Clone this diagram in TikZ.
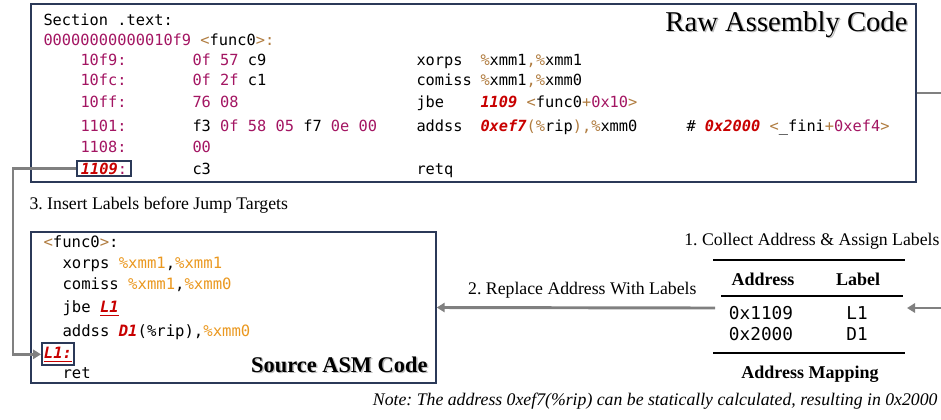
\documentclass[tikz,border=0pt]{standalone}
\usepackage{fontspec}
\setmainfont{Liberation Serif}
\setmonofont{DejaVu Sans Mono}
\usetikzlibrary{arrows.meta,fit}

\definecolor{numpurple}{RGB}{163,21,98}
\definecolor{symbrown}{RGB}{176,124,64}
\definecolor{hlred}{RGB}{200,0,0}
\definecolor{regorange}{RGB}{234,152,32}
\definecolor{boxblue}{RGB}{43,57,88}
\definecolor{flowgray}{RGB}{128,128,128}

\newcommand{\nm}[1]{\textcolor{numpurple}{#1}}
\newcommand{\sy}[1]{\textcolor{symbrown}{#1}}
\newcommand{\hl}[1]{\textcolor{hlred}{\bfseries\itshape #1}}
\newcommand{\rg}[1]{\textcolor{regorange}{#1}}
\newsavebox\ulbox
\newcommand{\ulred}[1]{\sbox\ulbox{#1}\rlap{\textcolor{hlred}{\rule[-3pt]{\wd\ulbox}{1.1pt}}}\usebox\ulbox}

\tikzset{every picture/.style={line width=0.75pt}}
\tikzset{
  rawcode/.style={anchor=base west, inner sep=0pt, font=\fontsize{11.5}{13}\ttfamily},
  srccode/.style={anchor=base west, inner sep=0pt, font=\fontsize{11.7}{14}\ttfamily},
  codebox/.style={draw=boxblue, line width=1.1pt, inner sep=0pt},
  markbox/.style={draw=boxblue, line width=1.4pt, anchor=base west},
  steptext/.style={inner sep=0pt, font=\fontsize{13.3}{15}\selectfont},
  tabhead/.style={anchor=base, inner sep=0pt, font=\fontsize{13.5}{16}\bfseries},
  tabcell/.style={anchor=base, inner sep=0pt, font=\fontsize{13.3}{15}\ttfamily},
  tabrule/.style={line width=1.6pt},
  flow/.style={draw=flowgray, line width=2.2pt, -{Triangle[length=6pt,width=7pt]}}
}

\begin{document}
\frenchspacing
\begin{tikzpicture}[x=0.75pt,y=0.75pt,yscale=-1,xscale=1]
    \path[use as bounding box] (0,0) rectangle (941,419);
    \clip (0,0) rectangle (941,419);

    %Raw assembly box
    \node[codebox, fit={(31,4) (916,182)}] (raw) {};
    \node[anchor=base east, inner sep=0pt, text=black!25, font=\fontsize{21.5}{24}\selectfont] (rawshade) at (909.5,32.5) {Raw Assembly Code};
    \node[anchor=base east, inner sep=0pt, font=\fontsize{21.5}{24}\selectfont] (rawtitle) at (908,31) {Raw Assembly Code};

    \node[rawcode] (sect) at (43,25) {Section .text:};
    \node[rawcode] (fn) at (43,45.5) {\nm{00000000000010f9} \sy{<}func0\sy{>:}};
    %row 10f9
    \node[rawcode] (a1) at (80,65) {\nm{10f9:}};
    \node[rawcode] (b1) at (192,65) {\nm{0f 57} c9};
    \node[rawcode] (i1) at (416,65) {xorps};
    \node[rawcode] (o1) at (480,65) {\sy{\%}xmm1\sy{,\%}xmm1};
    %row 10fc
    \node[rawcode] (a2) at (80,85) {\nm{10fc:}};
    \node[rawcode] (b2) at (192,85) {\nm{0f 2f} c1};
    \node[rawcode] (i2) at (416,85) {comiss};
    \node[rawcode] (o2) at (480,85) {\sy{\%}xmm1\sy{,\%}xmm0};
    %row 10ff
    \node[rawcode] (a3) at (80,107) {\nm{10ff:}};
    \node[rawcode] (b3) at (192,107) {\nm{76 08}};
    \node[rawcode] (i3) at (416,107) {jbe};
    \node[rawcode] (o3) at (480,107) {\hl{1109} \sy{<}func0\sy{+}\nm{0x10}\sy{>}};
    %row 1101
    \node[rawcode] (a4) at (80,131.5) {\nm{1101:}};
    \node[rawcode] (b4) at (192,131.5) {f3 \nm{0f 58 05} f7 \nm{0e 00}};
    \node[rawcode] (i4) at (416,131.5) {addss};
    \node[rawcode] (o4) at (480,131.5) {\hl{0xef7}\sy{(\%}rip\sy{),\%}xmm0};
    \node[rawcode] (c4) at (686,131.5) {\# \hl{0x2000} \sy{<}\_fini\sy{+}\nm{0xef4}\sy{>}};
    %row 1108
    \node[rawcode] (a5) at (80,152.5) {\nm{1108:}};
    \node[rawcode] (b5) at (192,152.5) {\nm{00}};
    %row 1109
    \node[rawcode, markbox, inner xsep=3pt, inner ysep=1.5pt] (m1109) at (76,174) {\hl{1109}\nm{:}};
    \node[rawcode] (b6) at (192,174) {c3};
    \node[rawcode] (i6) at (416,174) {retq};

    %Source asm box
    \node[codebox, fit={(31,232) (436,383)}] (src) {};
    \node[anchor=base east, inner sep=0pt, text=black!25, font=\fontsize{16.8}{20}\bfseries] (srcshade) at (429.5,373.5) {Source ASM Code};
    \node[anchor=base east, inner sep=0pt, font=\fontsize{16.8}{20}\bfseries] (srctitle) at (428,372) {Source ASM Code};

    \node[srccode] (s1) at (43,247) {\sy{<}func0\sy{>}:};
    \node[srccode] (s2) at (62,268) {xorps \rg{\%xmm1},\rg{\%xmm1}};
    \node[srccode] (s3) at (62,289) {comiss \rg{\%xmm1},\rg{\%xmm0}};
    \node[srccode] (s4) at (62,312) {jbe \ulred{\hl{L1}}};
    \node[srccode] (s5) at (62,336) {addss \hl{D1}(\%rip),\rg{\%xmm0}};
    \node[srccode, markbox, inner xsep=1.5pt, inner ysep=2.5pt] (mL1) at (41,358) {\ulred{\hl{L1:}}\hspace{3pt}};
    \node[srccode] (s6) at (62,378) {ret};

    %Address mapping table
    \draw[tabrule] (713,260) -- (905,260);
    \draw[line width=1pt] (721,296) -- (903,296);
    \draw[tabrule] (713,353) -- (905,353);
    \node[tabhead] (hAddr) at (763,285) {Address};
    \node[tabhead] (hLab) at (858,285) {Label};
    \node[tabcell] (addr1) at (761,319) {0x1109};
    \node[tabcell] (lab1) at (857,319) {L1};
    \node[tabcell] (addr2) at (761,340) {0x2000};
    \node[tabcell] (lab2) at (857,340) {D1};
    \node[tabhead] (mapcap) at (810,378) {Address Mapping};
    \coordinate (mapE) at (907,308);
    \coordinate (mapW) at (715,308);

    %Step labels
    \node[steptext, anchor=base east] (step1) at (940,245) {1. Collect Address \& Assign Labels};
    \node[steptext, anchor=base east] (step2) at (697,294) {2. Replace Address With Labels};
    \node[steptext, anchor=base west] (step3) at (29,209) {3. Insert Labels before Jump Targets};

    %Connectors
    \draw[flow] (raw.east) -- ++(30,0) |- (mapE);
    \draw[flow] (mapW) -- (src.east);
    \draw[flow] (m1109.west) -- ++(-63,0) |- (mL1.west);

    %Note
    \node[anchor=base east, inner sep=0pt, font=\fontsize{13.3}{15}\itshape] (note) at (938,405) {Note: The address 0xef7(\%rip) can be statically calculated, resulting in 0x2000};
\end{tikzpicture}
\end{document}
